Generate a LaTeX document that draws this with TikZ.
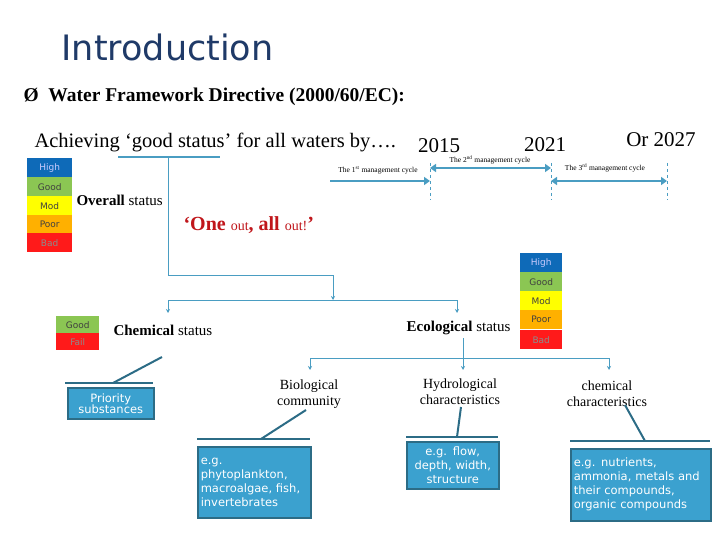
\documentclass[tikz,border=0pt]{standalone}
\usepackage{fontspec}
\setmainfont{Liberation Serif}
\newfontfamily\sansf{DejaVu Sans}
\usetikzlibrary{arrows.meta}
\definecolor{boxblue}{HTML}{3BA1CF}
\definecolor{boxedge}{HTML}{2C6C86}
\definecolor{conn}{HTML}{4A9DC2}
\definecolor{titlec}{HTML}{1F3A68}
\definecolor{sHigh}{HTML}{0E6AB8}
\definecolor{sGood}{HTML}{8BC653}
\definecolor{sMod}{HTML}{FFFF00}
\definecolor{sPoor}{HTML}{FFB000}
\definecolor{sBad}{HTML}{FF1A1A}
\definecolor{redtxt}{HTML}{C0161B}
\begin{document}
\begin{tikzpicture}[x=1pt,y=-1pt,
  sw/.style={minimum width=#1,minimum height=19pt,inner sep=0pt,font=\sansf\fontsize{9}{9}\selectfont,text=black!75},
  cbox/.style={draw=boxedge,line width=1.5pt,fill=boxblue,text=white,font=\sansf\fontsize{11.5}{14}\selectfont,inner sep=2pt,align=left,anchor=north west},
  conn/.style={draw=conn,line width=1pt},
  arr/.style={conn,-{Stealth[length=4pt,width=4pt]}},
  diag/.style={draw=boxedge,line width=2pt},
  cyc/.style={draw=conn,line width=2.5pt},
  dsh/.style={draw=conn,dashed,line width=0.6pt},
  lbl/.style={font=\fontsize{14}{16}\selectfont,align=center},
  tiny/.style={font=\fontsize{7.5}{8}\selectfont}]
\useasboundingbox[fill=white] (0,0) rectangle (720,540);
\node[anchor=west,text=titlec,font=\sansf\fontsize{35}{38}\selectfont] (title) at (58,47) {Introduction};
\node[anchor=west,font=\bfseries\fontsize{19.5}{22}\selectfont] (wfd) at (20,97) {Ø\ \ Water Framework Directive (2000/60/EC):};
\node[anchor=west,font=\fontsize{20.5}{22}\selectfont] (ach) at (31,142) {Achieving ‘good status’ for all waters by….};
\node[font=\fontsize{21}{22}\selectfont] (y15) at (439,146) {2015};
\node[font=\fontsize{21}{22}\selectfont] (y21) at (545,145) {2021};
\node[font=\fontsize{21}{22}\selectfont] (y27) at (661,140) {Or 2027};
% timeline
\coordinate (t0) at (330,181); \coordinate (t1) at (430,181);
\coordinate (d1a) at (430,163); \coordinate (d1b) at (430,200);
\coordinate (d2a) at (551,163); \coordinate (d2b) at (551,200);
\coordinate (d3a) at (667,163); \coordinate (d3b) at (667,200);
\draw[dsh] (d1a) -- (d1b); \draw[dsh] (d2a) -- (d2b); \draw[dsh] (d3a) -- (d3b);
\draw[cyc,-{Triangle[length=6pt,width=8pt]}] (t0) -- (t1);
\draw[cyc,{Triangle[length=6pt,width=8pt]}-{Triangle[length=6pt,width=8pt]}] (430,168) -- (551,168);
\draw[cyc,{Triangle[length=6pt,width=8pt]}-{Triangle[length=6pt,width=8pt]}] (551,181) -- (667,181);
\node[tiny] (c1) at (378,170) {The 1\textsuperscript{st} management cycle};
\node[tiny] (c2) at (490,160) {The 2\textsuperscript{nd} management cycle};
\node[tiny] (c3) at (605,168) {The 3\textsuperscript{rd} management cycle};
% overall scale
\node[sw=45pt,fill=sHigh,text=white!80!blue,anchor=north west] (oh) at (27,158) {High};
\node[sw=45pt,fill=sGood,anchor=north west] (og) at (27,177) {Good};
\node[sw=45pt,fill=sMod,anchor=north west] (om) at (27,196) {Mod};
\node[sw=45pt,fill=sPoor,anchor=north west] (op) at (27,215) {Poor};
\node[sw=45pt,fill=sBad,text=black!45,anchor=north west] (ob) at (27,233) {Bad};
\node[anchor=west,font=\fontsize{15}{16}\selectfont] (overall) at (73,200) {\textbf{Overall} status};
\node[anchor=west,text=redtxt,font=\bfseries\fontsize{20}{20}\selectfont] (one) at (180,225) {‘One {\fontsize{14}{15}\selectfont\mdseries out}, all {\fontsize{14}{15}\selectfont\mdseries out!}’};
% tree top
\coordinate (u0) at (118,157); \coordinate (u1) at (220,157);
\draw[conn,line width=1.5pt] (u0) -- (u1);
\coordinate (v0) at (168,157); \coordinate (v1) at (168,275); \coordinate (v2) at (333,275); \coordinate (v3) at (333,300);
\draw[conn] (v0) -- (v1) -- (v2);
\draw[arr] (v2) -- (v3);
\coordinate (h0) at (168,300); \coordinate (h1) at (457,300);
\draw[conn] (h0) -- (h1);
\draw[arr] (h0) -- (168,313);
\draw[arr] (h1) -- (457,313);
% chemical
\node[sw=43pt,fill=sGood,minimum height=17pt,anchor=north west] (cg) at (56,316) {Good};
\node[sw=43pt,fill=sBad,text=black!45,minimum height=17pt,anchor=north west] (cf) at (56,333) {Fail};
\node[anchor=west,font=\fontsize{15}{16}\selectfont] (chem) at (110,330) {\textbf{Chemical} status};
\node[cbox,minimum width=86pt,minimum height=31pt,align=center,anchor=north west] (prio) at (67,387) {Priority\\[-3pt]substances};
\draw[diag,line width=1.5pt] (65,383) -- (153,383);
\draw[diag] (162,357) -- (113,383);
% ecological
\node[anchor=east,font=\fontsize{15}{16}\selectfont] (eco) at (514,328) {\textbf{Ecological} status};
\node[sw=42pt,fill=sHigh,text=white!80!blue,anchor=north west] (eh) at (520,253) {High};
\node[sw=42pt,fill=sGood,anchor=north west] (eg) at (520,272) {Good};
\node[sw=42pt,fill=sMod,anchor=north west] (em) at (520,291) {Mod};
\node[sw=42pt,fill=sPoor,anchor=north west] (ep) at (520,310) {Poor};
\node[sw=42pt,fill=sBad,text=black!45,anchor=north west] (eb) at (520,330) {Bad};
\coordinate (e0) at (463,338); \coordinate (e1) at (463,358);
\coordinate (el) at (310,358); \coordinate (er) at (609,358);
\draw[conn] (e0) -- (e1); \draw[conn] (el) -- (er);
\draw[arr] (el) -- (310,370); \draw[arr] (e1) -- (463,370); \draw[arr] (er) -- (609,370);
\node[lbl] (bio) at (309,394) {Biological\\community};
\node[lbl] (hyd) at (460,392) {Hydrological\\characteristics};
\node[lbl] (chc) at (607,394) {chemical\\characteristics};
\node[cbox,minimum width=113pt,minimum height=71pt,text width=107pt] (bbox) at (197,446) {e.g.\\phytoplankton,\\macroalgae, fish,\\invertebrates};
\node[cbox,minimum width=92pt,minimum height=47pt,align=center,text width=86pt] (hbox) at (406,441) {e.g. flow,\\depth, width,\\structure};
\node[cbox,minimum width=140pt,minimum height=72pt,text width=134pt] (cbx) at (570,448) {e.g. nutrients,\\ammonia, metals and\\their compounds,\\organic compounds};
\draw[diag,line width=1.5pt] (197,439) -- (310,439);
\draw[diag,line width=1.5pt] (406,437) -- (498,437);
\draw[diag,line width=1.5pt] (570,441) -- (710,441);
\draw[diag] (306,410) -- (261,439);
\draw[diag] (461,407) -- (457,437);
\draw[diag] (625,405) -- (645,441);
\end{tikzpicture}
\end{document}
